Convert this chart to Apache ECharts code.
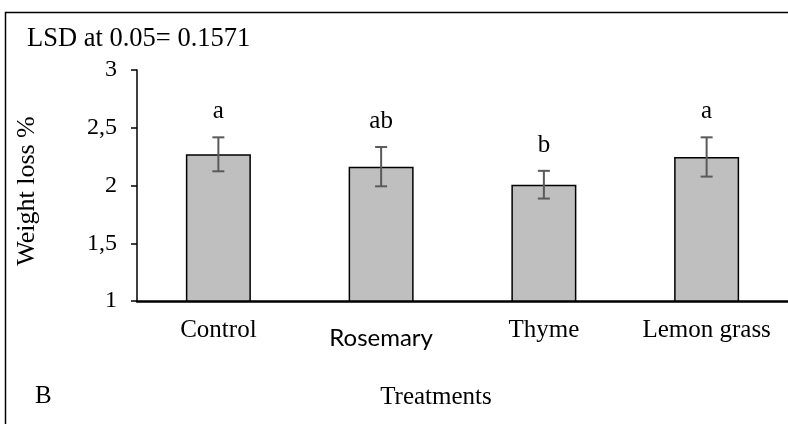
<!DOCTYPE html>
<html>
<head>
<meta charset="utf-8">
<script src="https://cdn.jsdelivr.net/npm/echarts@6/dist/echarts.min.js"></script>
<style>
  html, body { margin: 0; padding: 0; background: #fff; }
  #chart { width: 788px; height: 424px; }
</style>
</head>
<body>
<div id="chart"></div>
<script>
var categories = ['Control', 'Rosemary', 'Thyme', 'Lemon grass'];
var weightLoss = [2.27, 2.163, 2.007, 2.247];
var errors = [0.147, 0.17, 0.12, 0.17];
var letters = ['a', 'ab', 'b', 'a'];
var yTicks = [1, 1.5, 2, 2.5, 3];

var serif = '"Liberation Serif", "Times New Roman", serif';

var chart = echarts.init(document.getElementById('chart'));

var errData = weightLoss.map(function (v, i) {
  return [i, v - errors[i], v + errors[i]];
});

var option = {
  animation: false,
  backgroundColor: '#fff',
  grid: { left: 137, right: 0, top: 70, bottom: 123 },
  xAxis: {
    type: 'category',
    data: categories,
    axisLine: { lineStyle: { color: '#000', width: 2.5 } },
    axisTick: { show: false },
    axisLabel: {
      interval: 0,
      margin: 17,
      color: '#000',
      fontFamily: serif,
      fontSize: 25,
      formatter: function (v) {
        return v === 'Rosemary' ? '{s|' + v + '}' : v;
      },
      rich: {
        s: { fontFamily: 'Lato, "Liberation Sans", sans-serif', fontSize: 24, color: '#000', padding: [8, 0, 0, 0] }
      }
    }
  },
  yAxis: {
    type: 'value',
    min: 1,
    max: 3,
    interval: 0.5,
    splitLine: { show: false },
    axisLine: { show: true, lineStyle: { color: '#000', width: 1.5 } },
    axisTick: { show: true, length: 6, lineStyle: { color: '#000', width: 1.5 } },
    axisLabel: {
      margin: 20,
      color: '#000',
      fontFamily: serif,
      fontSize: 24,
      formatter: function (v) {
        return yTicks.indexOf(v) >= 0 ? String(v).replace('.', ',') : '';
      }
    }
  },
  series: [
    {
      type: 'bar',
      data: weightLoss,
      barWidth: 65,
      itemStyle: { color: '#bfbfbf', borderColor: '#000', borderWidth: 1.5 }
    },
    {
      type: 'custom',
      data: errData,
      z: 10,
      renderItem: function (params, api) {
        var lo = api.coord([api.value(0), api.value(1)]);
        var hi = api.coord([api.value(0), api.value(2)]);
        var x = lo[0];
        var cap = 6;
        var st = { stroke: '#5a5a5a', lineWidth: 2 };
        return {
          type: 'group',
          children: [
            { type: 'line', shape: { x1: x, y1: lo[1], x2: x, y2: hi[1] }, style: st },
            { type: 'line', shape: { x1: x - cap, y1: lo[1], x2: x + cap, y2: lo[1] }, style: st },
            { type: 'line', shape: { x1: x - cap, y1: hi[1], x2: x + cap, y2: hi[1] }, style: st },
            {
              type: 'text',
              style: {
                x: x,
                y: hi[1] - 13,
                text: letters[params.dataIndex],
                fill: '#000',
                font: '25px ' + serif,
                align: 'center',
                verticalAlign: 'bottom'
              }
            }
          ]
        };
      }
    }
  ],
  graphic: [
    {
      type: 'rect',
      shape: { x: 5.5, y: 12.5, width: 800, height: 430 },
      style: { fill: 'none', stroke: '#000', lineWidth: 1.5 },
      silent: true
    },
    {
      type: 'text',
      x: 27, y: 39,
      style: { text: 'LSD at 0.05= 0.1571', font: '26.5px ' + serif, fill: '#000', verticalAlign: 'middle' }
    },
    {
      type: 'text',
      x: 27, y: 191,
      rotation: Math.PI / 2,
      style: { text: 'Weight loss %', font: '26px ' + serif, fill: '#000', align: 'center', verticalAlign: 'middle' }
    },
    {
      type: 'text',
      x: 35, y: 396,
      style: { text: 'B', font: '25px ' + serif, fill: '#000', verticalAlign: 'middle' }
    },
    {
      type: 'text',
      x: 436, y: 397,
      style: { text: 'Treatments', font: '25px ' + serif, fill: '#000', align: 'center', verticalAlign: 'middle' }
    }
  ]
};

chart.setOption(option);
window.addEventListener('resize', function () {
  chart.resize();
});
</script>
</body>
</html>
